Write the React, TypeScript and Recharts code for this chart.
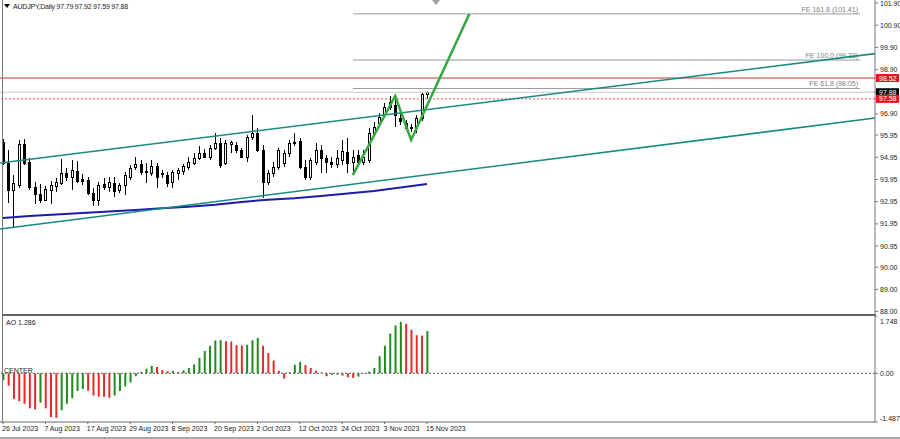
import { Bar, Cell, ComposedChart, Line, ReferenceLine, XAxis, YAxis } from "recharts";

// daily candles, 26 Jul 2023 .. 15 Nov 2023 (bar index 0..80)
const opens = [
  95.64, 94.69, 93.48, 93.7, 95.55, 94.74, 93.61, 93.3, 93.03, 93.48,
  93.66, 93.79, 94.24, 94.06, 94.33, 93.97, 93.93, 93.34, 93.03, 93.75,
  93.61, 93.79, 93.48, 93.7, 94.06, 94.51, 94.65, 94.29, 94.24, 94.56,
  94.2, 94.15, 93.84, 94.24, 94.33, 94.51, 94.69, 94.92, 95.14, 94.96,
  95.37, 95.59, 94.69, 95.57, 95.5, 95.28, 94.96, 95.86, 96.04, 95.28,
  93.84, 94.24, 94.51, 94.69, 95.14, 95.59, 95.68, 94.51, 94.06, 94.74,
  95.28, 94.92, 94.74, 94.65, 94.83, 95.19, 94.74, 95.05, 94.74, 94.83,
  96.04, 96.49, 96.85, 97.22, 97.31, 96.72, 96.49, 96.27, 96.27, 96.72,
  97.79
];
const highs = [
  95.77, 95.28, 94.15, 95.73, 95.77, 94.92, 93.84, 93.75, 93.66, 93.88,
  94.02, 94.87, 94.47, 94.83, 94.78, 94.2, 94.06, 93.57, 93.84, 94.02,
  94.06, 94.06, 93.79, 94.29, 94.6, 94.96, 94.83, 94.69, 94.83, 94.69,
  94.38, 94.29, 94.38, 94.47, 94.65, 94.96, 95.14, 95.46, 95.32, 95.5,
  96.04, 95.82, 95.73, 95.7, 95.64, 95.37, 95.95, 96.85, 96.27, 95.5,
  94.38, 94.74, 95.37, 95.28, 95.73, 96.04, 95.82, 94.83, 94.92, 95.59,
  95.5, 95.05, 94.96, 95.28, 95.73, 95.82, 95.28, 95.28, 95.28, 96.27,
  96.54, 96.94, 97.4, 97.71, 97.53, 97.08, 96.63, 96.45, 96.85, 97.89,
  97.92
];
const lows = [
  94.6, 92.89, 91.77, 93.57, 94.6, 93.48, 92.85, 92.89, 92.98, 92.85,
  93.39, 93.7, 93.88, 93.48, 93.79, 93.7, 93.25, 92.76, 92.76, 93.48,
  93.39, 93.16, 93.34, 93.25, 93.93, 94.38, 94.15, 93.79, 94.11, 93.57,
  94.02, 93.61, 93.57, 93.93, 94.15, 94.38, 94.6, 94.83, 94.92, 94.83,
  95.28, 94.47, 94.6, 95.14, 95.14, 94.92, 94.74, 95.73, 95.19, 93.12,
  93.7, 94.06, 94.38, 94.51, 94.96, 95.46, 94.42, 93.93, 93.93, 94.6,
  94.24, 94.24, 94.47, 94.47, 94.6, 94.24, 94.15, 94.6, 94.6, 94.69,
  95.91, 96.4, 96.72, 97.08, 96.31, 96.4, 96.18, 96.09, 96.04, 96.58,
  97.59
];
const closes = [
  94.69, 93.48, 93.79, 95.55, 94.69, 93.61, 93.3, 93.03, 93.52, 93.7,
  93.84, 94.24, 94.06, 94.38, 93.88, 93.88, 93.34, 93.03, 93.7, 93.61,
  93.84, 93.43, 93.7, 94.15, 94.47, 94.65, 94.29, 94.33, 94.56, 94.06,
  94.24, 93.79, 94.29, 94.38, 94.56, 94.74, 94.92, 95.14, 94.96, 95.37,
  95.59, 94.6, 95.59, 95.62, 95.28, 94.96, 95.86, 96.04, 95.28, 93.84,
  94.24, 94.51, 95.28, 95.14, 95.59, 95.64, 94.51, 94.06, 94.83, 95.28,
  94.92, 94.74, 94.65, 94.92, 95.23, 94.69, 94.96, 94.74, 94.96, 96.04,
  96.31, 96.77, 97.22, 97.44, 96.85, 96.58, 96.27, 96.31, 96.72, 97.8,
  97.88
];

// blue moving average, read every 5 bars
const maBars = [0, 5, 10, 15, 20, 25, 30, 35, 40, 45, 50, 55, 60, 65, 70, 75, 80];
const maValues = [92.22, 92.3, 92.37, 92.44, 92.51, 92.58, 92.65, 92.72, 92.81, 92.94, 93.04, 93.1, 93.21, 93.32, 93.43, 93.59, 93.75];

// Awesome Oscillator
const aoValues = [
  -0.21, -0.38, -0.78, -0.85, -0.93, -1.07, -1.1, -0.9, -1.07, -1.34,
  -1.36, -1.13, -0.93, -0.76, -0.54, -0.48, -0.53, -0.68, -0.71, -0.72,
  -0.75, -0.68, -0.54, -0.4, -0.28, -0.09, 0.04, 0.14, 0.23, 0.19,
  0.1, 0.06, 0.07, 0.04, 0.09, 0.16, 0.27, 0.47, 0.68, 0.84,
  1.0, 1.01, 0.98, 0.97, 0.86, 0.85, 0.87, 1.01, 1.08, 0.84,
  0.62, 0.39, 0.07, -0.16, 0.03, 0.26, 0.35, 0.25, 0.16, 0.08,
  0.02, -0.09, -0.05, -0.04, -0.07, -0.12, -0.14, -0.1, -0.01, 0.05,
  0.16, 0.52, 0.84, 1.21, 1.46, 1.57, 1.51, 1.33, 1.16, 1.15,
  1.286
];

// drawn objects
const channelBars = [-0.566, 164.53];
const upperChannel = [94.69, 99.62];
const lowerChannel = [91.72, 96.72];
const zigzagBars = [66, 74, 77, 88];
const zigzagPrices = [94.15, 97.71, 95.73, 101.41];
const feStartBar = 66;
const feEndBar = 161.7;
const feLevels = [101.41, 99.33, 98.05];
const feNames = ["FE 161.8 (101.41)", "FE 100.0 (99.33)", "FE 61.8 (98.05)"];
const redLevel = 98.52;
const bidLevel = 97.88;
const dottedLevel = 97.58;

const priceTicks = [101.9, 100.9, 99.9, 98.9, 96.9, 95.95, 94.95, 93.95, 92.95, 91.95, 90.95, 90, 89, 88];
const dateTickBars = [0, 8, 16, 24, 32, 40, 48, 56, 64, 72, 80];
const dateTickLabels = ["26 Jul 2023", "7 Aug 2023", "17 Aug 2023", "29 Aug 2023", "8 Sep 2023", "20 Sep 2023", "2 Oct 2023", "12 Oct 2023", "24 Oct 2023", "3 Nov 2023", "15 Nov 2023"];

const X_DOMAIN: [number, number] = [-0.566, 164.53];
const FONT = "'Liberation Sans', Arial, sans-serif";
const AO_GREEN = "#1e8c1e";
const AO_RED = "#e42a2a";

const candles = opens.map((open, i) => ({
  i,
  open,
  high: highs[i],
  low: lows[i],
  close: closes[i],
  range: [lows[i], highs[i]]
}));
const maPoints = maBars.map((i, k) => ({ i, v: maValues[k] }));
const upperPoints = channelBars.map((i, k) => ({ i, v: upperChannel[k] }));
const lowerPoints = channelBars.map((i, k) => ({ i, v: lowerChannel[k] }));
const zigzagPoints = zigzagBars.map((i, k) => ({ i, v: zigzagPrices[k] }));
const aoData = aoValues.map((ao, i) => ({ i, ao }));

function Candle(props: any) {
  const { x, y, width, height, payload } = props;
  if (x == null || y == null || !payload) return null;
  const top = Math.min(y, y + height);
  const h = Math.abs(height);
  const k = h / (payload.high - payload.low || 1);
  const cx = Math.round(x + width / 2) + 0.5;
  const bTop = Math.round(top + (payload.high - Math.max(payload.open, payload.close)) * k) + 0.5;
  const bBot = Math.round(top + (payload.high - Math.min(payload.open, payload.close)) * k) + 0.5;
  const up = payload.close >= payload.open;
  return (
    <g>
      <line x1={cx} x2={cx} y1={top} y2={top + h} stroke="#000" strokeWidth={1} />
      <rect x={cx - 1} y={bTop} width={2} height={Math.max(bBot - bTop, 0.01)} fill={up ? "#fff" : "#000"} stroke="#000" strokeWidth={1} />
    </g>
  );
}

const markerBoxes: Record<number, string> = {
  [redLevel]: "#e8141c",
  [bidLevel]: "#000",
  [dottedLevel]: "#e8141c"
};

function PriceTick(props: any) {
  const { x, y, payload } = props;
  const v = payload.value;
  const box = markerBoxes[v];
  if (box) {
    return (
      <g>
        <rect x={x - 4} y={y - 4} width={23} height={8} fill={box} />
        <text x={x - 1} y={y + 2.5} fontSize={7} fontFamily={FONT} fill="#fff">{v.toFixed(2)}</text>
      </g>
    );
  }
  return (
    <text x={x} y={y + 2.5} fontSize={7} fontFamily={FONT} fill="#222">{v.toFixed(2)}</text>
  );
}

function AoTick(props: any) {
  const { x, y, payload } = props;
  const v = payload.value;
  const yy = Math.min(Math.max(y, 5), 102);
  return (
    <text x={x} y={yy + 2.5} fontSize={7} fontFamily={FONT} fill="#222">{v === 0 ? "0.00" : v.toFixed(3)}</text>
  );
}

function DateTick(props: any) {
  const { x, y, payload } = props;
  const k = dateTickBars.indexOf(payload.value);
  return (
    <text x={x - 1} y={y + 6} fontSize={7} fontFamily={FONT} fill="#222">{dateTickLabels[k]}</text>
  );
}

function feLabel(text: string) {
  return (p: any) => {
    const vb = p.viewBox || {};
    return (
      <text x={vb.x + vb.width - 2} y={vb.y - 2} textAnchor="end" fontSize={7} fontFamily={FONT} fill="#7e7e7e">{text}</text>
    );
  };
}

const abs = (left: number, top: number, w: number, h: number, bg: string) => ({
  position: "absolute" as const, left, top, width: w, height: h, background: bg
});

export default function App() {
  return (
    <div style={{ position: "absolute", left: 0, top: 0, width: 900, height: 439, background: "#fff", overflow: "hidden", fontFamily: FONT }}>
      <div style={{ position: "absolute", left: 0, top: 0 }}>
        <ComposedChart width={900} height={316} data={candles} margin={{ top: 0, right: 0, bottom: 2, left: 0 }}>
          <XAxis type="number" dataKey="i" domain={X_DOMAIN} hide allowDataOverflow />
          <YAxis
            orientation="right"
            type="number"
            domain={[87.891, 102.035]}
            ticks={[...priceTicks, redLevel, bidLevel, dottedLevel]}
            interval={0}
            allowDataOverflow
            width={25}
            tickSize={3}
            tickMargin={2}
            axisLine={{ stroke: "#777" }}
            tickLine={{ stroke: "#777" }}
            tick={<PriceTick />}
          />
          <ReferenceLine y={redLevel} stroke="#c0392b" strokeWidth={1} />
          <ReferenceLine y={bidLevel} stroke="#c8c8c8" strokeWidth={1} />
          <ReferenceLine y={dottedLevel} stroke="#e05050" strokeDasharray="2 2" strokeWidth={1} />
          {feLevels.map((lv, k) => (
            <ReferenceLine
              key={lv}
              segment={[{ x: feStartBar, y: lv }, { x: feEndBar, y: lv }]}
              stroke="#9a9a9a"
              strokeWidth={1}
              label={feLabel(feNames[k])}
            />
          ))}
          <Bar dataKey="range" barSize={3} shape={Candle} isAnimationActive={false} />
          <Line data={maPoints} dataKey="v" type="linear" stroke="#1c1ca6" strokeWidth={2} dot={false} isAnimationActive={false} />
          <Line data={upperPoints} dataKey="v" type="linear" stroke="#178a82" strokeWidth={1.6} dot={false} isAnimationActive={false} />
          <Line data={lowerPoints} dataKey="v" type="linear" stroke="#178a82" strokeWidth={1.6} dot={false} isAnimationActive={false} />
          <Line data={zigzagPoints} dataKey="v" type="linear" stroke="#35a843" strokeWidth={2.5} dot={false} isAnimationActive={false} />
        </ComposedChart>
      </div>
      <div style={{ position: "absolute", left: 0, top: 316 }}>
        <ComposedChart width={900} height={123} data={aoData} margin={{ top: 0, right: 0, bottom: 0, left: 0 }}>
          <XAxis
            type="number"
            dataKey="i"
            domain={X_DOMAIN}
            allowDataOverflow
            ticks={dateTickBars}
            interval={0}
            height={17}
            tickSize={2}
            tickMargin={1}
            axisLine={{ stroke: "#666" }}
            tickLine={{ stroke: "#666" }}
            tick={<DateTick />}
          />
          <YAxis
            orientation="right"
            type="number"
            domain={[-1.487, 1.748]}
            ticks={[1.748, 0, -1.487]}
            interval={0}
            allowDataOverflow
            width={25}
            tickSize={3}
            tickMargin={2}
            axisLine={{ stroke: "#777" }}
            tickLine={{ stroke: "#777" }}
            tick={<AoTick />}
          />
          <ReferenceLine y={0} stroke="#555" strokeDasharray="2 2" strokeWidth={1} />
          <Bar dataKey="ao" barSize={2} isAnimationActive={false}>
            {aoData.map((d, i) => (
              <Cell key={i} fill={i === 0 || d.ao >= aoData[i - 1].ao ? AO_GREEN : AO_RED} />
            ))}
          </Bar>
        </ComposedChart>
      </div>
      {/* pane frames */}
      <div style={abs(2, 0, 1, 315, "#777")} />
      <div style={abs(2, 314, 874, 2, "#666")} />
      <div style={abs(2, 316, 1, 106, "#777")} />
      <div style={abs(0, 437, 900, 2, "#a8a8a8")} />
      {/* header texts */}
      <div style={{ position: "absolute", left: 4, top: 4, width: 0, height: 0, borderLeft: "3px solid transparent", borderRight: "3px solid transparent", borderTop: "4px solid #000" }} />
      <div style={{ position: "absolute", left: 432, top: 0, width: 0, height: 0, borderLeft: "4px solid transparent", borderRight: "4px solid transparent", borderTop: "5px solid #a0a0a0" }} />
      <div style={{ position: "absolute", left: 13, top: 2, fontSize: 7, color: "#222", whiteSpace: "pre", lineHeight: "9px", letterSpacing: -0.2 }}>AUDJPY,Daily 97.79 97.92 97.59 97.88</div>
      <div style={{ position: "absolute", left: 6, top: 318, fontSize: 7, color: "#222", lineHeight: "9px" }}>AO 1.286</div>
      <div style={{ position: "absolute", left: 4, top: 366, fontSize: 7, color: "#222", lineHeight: "9px" }}>CENTER</div>
    </div>
  );
}
